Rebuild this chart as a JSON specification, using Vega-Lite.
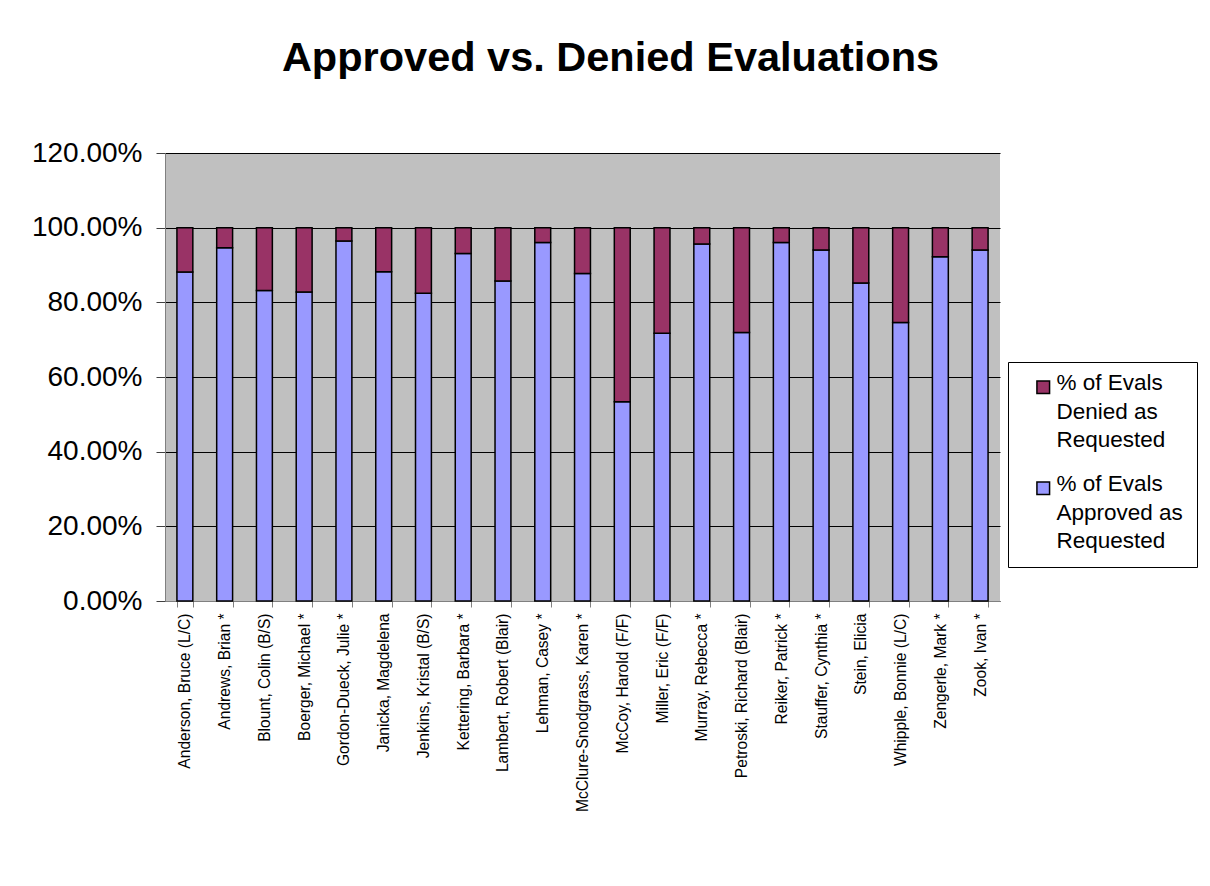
{
  "$schema": "https://vega.github.io/schema/vega-lite/v6.json",
  "width": 835,
  "height": 448,
  "autosize": {"type": "none"},
  "padding": {"left": 165, "top": 153, "right": 210, "bottom": 285},
  "background": "white",
  "title": {
    "text": "Approved vs. Denied Evaluations",
    "font": "Liberation Sans",
    "fontSize": 41.5,
    "fontWeight": "bold",
    "color": "black",
    "anchor": "middle",
    "dx": 28,
    "baseline": "alphabetic",
    "offset": 27
  },
  "config": {
    "view": {"fill": "#C0C0C0", "stroke": null},
    "font": "Liberation Sans"
  },
  "data": {
    "values": [
      {"name": "Anderson, Bruce (L/C)", "series": "% of Evals Approved as Requested", "k": 1, "pct": 0.881},
      {"name": "Anderson, Bruce (L/C)", "series": "% of Evals Denied as Requested", "k": 2, "pct": 0.119},
      {"name": "Andrews, Brian *", "series": "% of Evals Approved as Requested", "k": 1, "pct": 0.946},
      {"name": "Andrews, Brian *", "series": "% of Evals Denied as Requested", "k": 2, "pct": 0.054},
      {"name": "Blount, Colin (B/S)", "series": "% of Evals Approved as Requested", "k": 1, "pct": 0.832},
      {"name": "Blount, Colin (B/S)", "series": "% of Evals Denied as Requested", "k": 2, "pct": 0.168},
      {"name": "Boerger, Michael *", "series": "% of Evals Approved as Requested", "k": 1, "pct": 0.828},
      {"name": "Boerger, Michael *", "series": "% of Evals Denied as Requested", "k": 2, "pct": 0.172},
      {"name": "Gordon-Dueck, Julie *", "series": "% of Evals Approved as Requested", "k": 1, "pct": 0.964},
      {"name": "Gordon-Dueck, Julie *", "series": "% of Evals Denied as Requested", "k": 2, "pct": 0.036},
      {"name": "Janicka, Magdelena", "series": "% of Evals Approved as Requested", "k": 1, "pct": 0.882},
      {"name": "Janicka, Magdelena", "series": "% of Evals Denied as Requested", "k": 2, "pct": 0.118},
      {"name": "Jenkins, Kristal (B/S)", "series": "% of Evals Approved as Requested", "k": 1, "pct": 0.824},
      {"name": "Jenkins, Kristal (B/S)", "series": "% of Evals Denied as Requested", "k": 2, "pct": 0.176},
      {"name": "Kettering, Barbara *", "series": "% of Evals Approved as Requested", "k": 1, "pct": 0.931},
      {"name": "Kettering, Barbara *", "series": "% of Evals Denied as Requested", "k": 2, "pct": 0.069},
      {"name": "Lambert, Robert (Blair)", "series": "% of Evals Approved as Requested", "k": 1, "pct": 0.857},
      {"name": "Lambert, Robert (Blair)", "series": "% of Evals Denied as Requested", "k": 2, "pct": 0.143},
      {"name": "Lehman, Casey *", "series": "% of Evals Approved as Requested", "k": 1, "pct": 0.960},
      {"name": "Lehman, Casey *", "series": "% of Evals Denied as Requested", "k": 2, "pct": 0.040},
      {"name": "McClure-Snodgrass, Karen *", "series": "% of Evals Approved as Requested", "k": 1, "pct": 0.877},
      {"name": "McClure-Snodgrass, Karen *", "series": "% of Evals Denied as Requested", "k": 2, "pct": 0.123},
      {"name": "McCoy, Harold (F/F)", "series": "% of Evals Approved as Requested", "k": 1, "pct": 0.534},
      {"name": "McCoy, Harold (F/F)", "series": "% of Evals Denied as Requested", "k": 2, "pct": 0.466},
      {"name": "Miller, Eric (F/F)", "series": "% of Evals Approved as Requested", "k": 1, "pct": 0.717},
      {"name": "Miller, Eric (F/F)", "series": "% of Evals Denied as Requested", "k": 2, "pct": 0.283},
      {"name": "Murray, Rebecca *", "series": "% of Evals Approved as Requested", "k": 1, "pct": 0.956},
      {"name": "Murray, Rebecca *", "series": "% of Evals Denied as Requested", "k": 2, "pct": 0.044},
      {"name": "Petroski, Richard (Blair)", "series": "% of Evals Approved as Requested", "k": 1, "pct": 0.719},
      {"name": "Petroski, Richard (Blair)", "series": "% of Evals Denied as Requested", "k": 2, "pct": 0.281},
      {"name": "Reiker, Patrick *", "series": "% of Evals Approved as Requested", "k": 1, "pct": 0.960},
      {"name": "Reiker, Patrick *", "series": "% of Evals Denied as Requested", "k": 2, "pct": 0.040},
      {"name": "Stauffer, Cynthia *", "series": "% of Evals Approved as Requested", "k": 1, "pct": 0.940},
      {"name": "Stauffer, Cynthia *", "series": "% of Evals Denied as Requested", "k": 2, "pct": 0.060},
      {"name": "Stein, Elicia", "series": "% of Evals Approved as Requested", "k": 1, "pct": 0.852},
      {"name": "Stein, Elicia", "series": "% of Evals Denied as Requested", "k": 2, "pct": 0.148},
      {"name": "Whipple, Bonnie (L/C)", "series": "% of Evals Approved as Requested", "k": 1, "pct": 0.746},
      {"name": "Whipple, Bonnie (L/C)", "series": "% of Evals Denied as Requested", "k": 2, "pct": 0.254},
      {"name": "Zengerle, Mark *", "series": "% of Evals Approved as Requested", "k": 1, "pct": 0.922},
      {"name": "Zengerle, Mark *", "series": "% of Evals Denied as Requested", "k": 2, "pct": 0.078},
      {"name": "Zook, Ivan *", "series": "% of Evals Approved as Requested", "k": 1, "pct": 0.940},
      {"name": "Zook, Ivan *", "series": "% of Evals Denied as Requested", "k": 2, "pct": 0.060}
    ]
  },
  "mark": {"type": "bar", "stroke": "black", "strokeWidth": 1.5},
  "encoding": {
    "x": {
      "field": "name",
      "type": "nominal",
      "sort": null,
      "title": null,
      "scale": {"paddingInner": 0.6, "paddingOuter": 0.3},
      "axis": {
        "labelAngle": -90,
        "labelFontSize": 15.6,
        "labelColor": "black",
        "labelPadding": 6,
        "tickBand": "extent",
        "tickColor": "#808080",
        "tickSize": 6,
        "domainColor": "#808080",
        "labelLimit": 300
      }
    },
    "y": {
      "field": "pct",
      "type": "quantitative",
      "stack": "zero",
      "title": null,
      "scale": {"domain": [0, 1.2], "nice": false},
      "axis": {
        "values": [0, 0.2, 0.4, 0.6, 0.8, 1.0, 1.2],
        "format": ".2%",
        "labelFontSize": 28,
        "labelColor": "black",
        "labelPadding": 14,
        "grid": true,
        "gridColor": "black",
        "gridOpacity": 1,
        "gridWidth": 1,
        "tickColor": "#404040",
        "tickSize": 9,
        "domainColor": "#808080"
      }
    },
    "color": {
      "field": "series",
      "type": "nominal",
      "scale": {
        "domain": ["% of Evals Denied as Requested", "% of Evals Approved as Requested"],
        "range": ["#993366", "#9999FF"]
      },
      "legend": {
        "title": null,
        "orient": "none",
        "legendX": 843,
        "legendY": 209,
        "strokeColor": "black",
        "fillColor": "white",
        "padding": 14,
        "symbolType": "square",
        "symbolSize": 160,
        "symbolOffset": 10,
        "symbolStrokeColor": "black",
        "symbolStrokeWidth": 1.5,
        "symbolOpacity": 1,
        "labelFontSize": 22.5,
        "labelColor": "black",
        "labelLimit": 300,
        "labelBaseline": "top",
        "labelOffset": 2,
        "rowPadding": 21,
        "encode": {"labels": {"update": {"lineHeight": {"value": 28.5}, "dy": {"value": -15}}}},
        "labelExpr": "datum.label == '% of Evals Denied as Requested' ? ['% of Evals', 'Denied as', 'Requested'] : ['% of Evals', 'Approved as        ', 'Requested']"
      }
    },
    "order": {"field": "k", "type": "quantitative"}
  }
}
